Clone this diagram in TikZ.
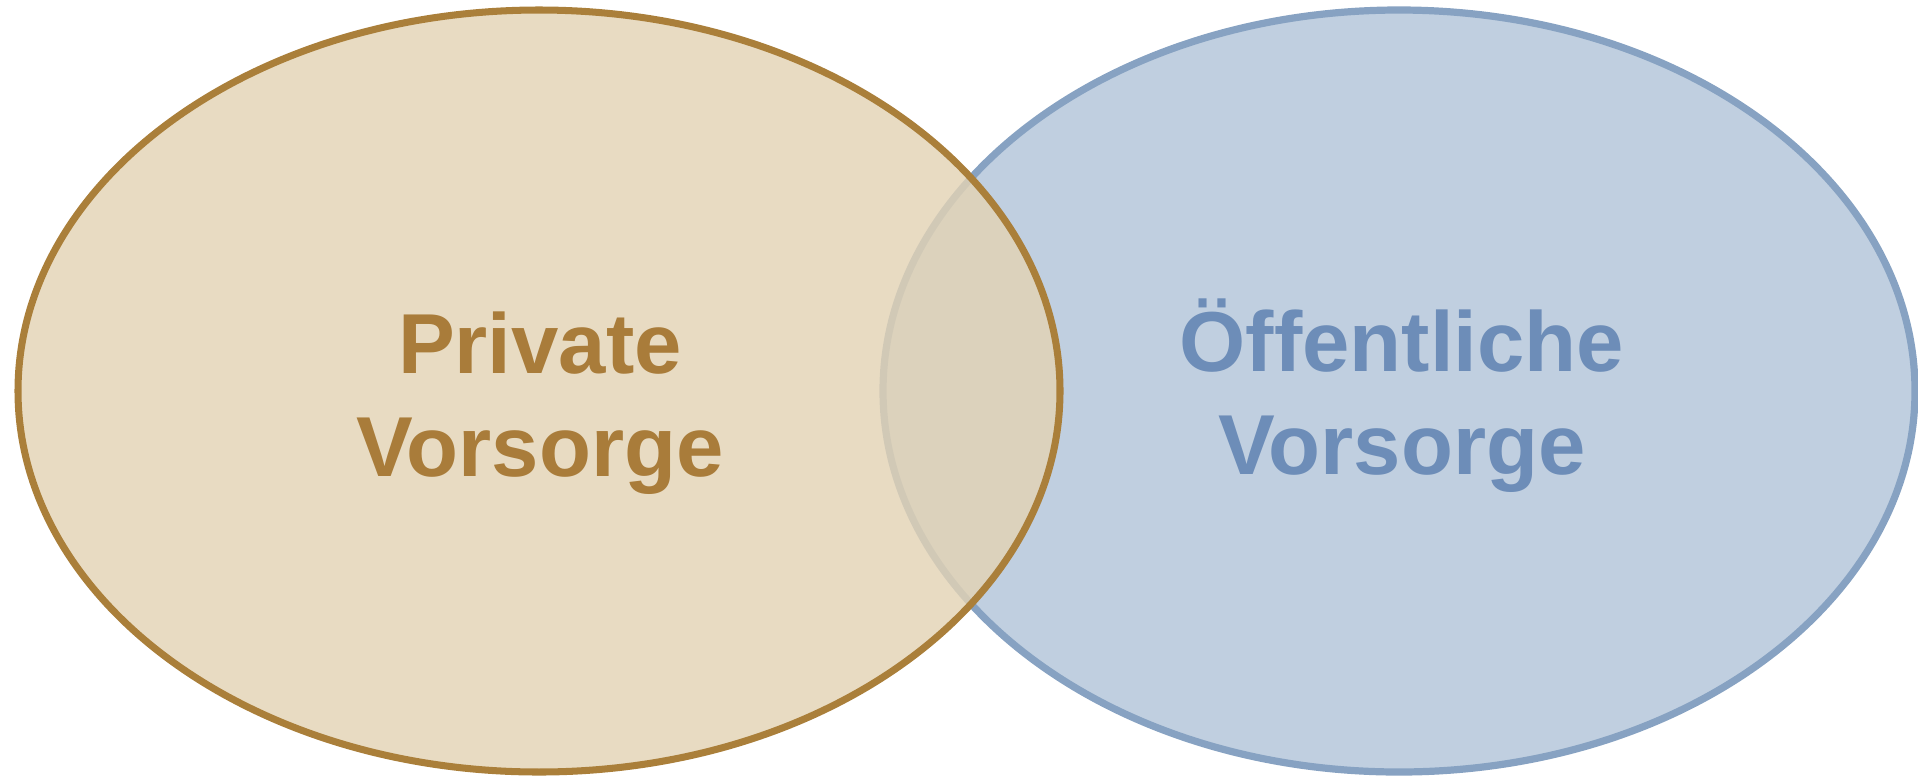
\documentclass[tikz,border=0pt]{standalone}
\usepackage{fontspec}
\setmainfont{Liberation Sans}
\definecolor{privline}{HTML}{AA7F3A}
\definecolor{privfill}{HTML}{E3D3B4}
\definecolor{privtext}{HTML}{A97C3A}
\definecolor{publine}{HTML}{87A2C2}
\definecolor{pubfill}{HTML}{C0CFE0}
\definecolor{pubtext}{HTML}{6D8DB8}
\begin{document}
\begin{tikzpicture}[x=0.01cm,y=-0.01cm,
    label/.style={align=center,inner sep=0pt,font=\fontsize{24.2}{29.3}\selectfont\bfseries}]
  \useasboundingbox (0,0) rectangle (1918,778);

  % right one first, the left one lies over it
  \draw[line width=2.05pt,draw=publine,fill=pubfill] (1399,391) ellipse [x radius=516, y radius=381];
  \draw[line width=2pt,draw=privline,fill=privfill,fill opacity=0.81] (539,391) ellipse [x radius=521, y radius=381];

  \node[label,text=privtext] (private) at (540,403) {Private\\Vorsorge};
  \node[label,text=pubtext]  (public)  at (1402,396) {Öffentliche\\Vorsorge};

\end{tikzpicture}
\end{document}
